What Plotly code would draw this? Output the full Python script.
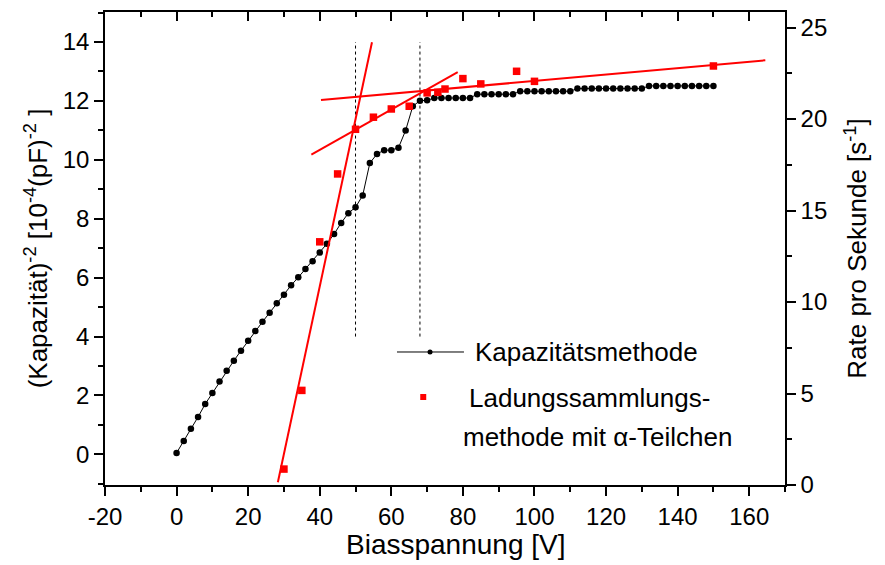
import plotly.graph_objects as go

# Kapazitätsmethode: Biasspannung [V] und (Kapazität)^-2 [10^-4 (pF)^-2]
kap_spannung = [0, 2, 4, 6, 8, 10, 12, 14, 16, 18, 20, 22, 24, 26, 28, 30, 32, 34, 36, 38,
                40, 42, 44, 46, 48, 50, 52, 54, 56, 58, 60, 62, 64, 66, 68, 70, 72, 74, 76, 78,
                80, 82, 84, 86, 88, 90, 92, 94, 96, 98, 100, 102, 104, 106, 108, 110, 112, 114, 116, 118,
                120, 122, 124, 126, 128, 130, 132, 134, 136, 138, 140, 142, 144, 146, 148, 150]
kap_werte = [0.05, 0.45, 0.87, 1.27, 1.71, 2.08, 2.47, 2.84, 3.18, 3.52, 3.86, 4.19, 4.50, 4.81, 5.13,
             5.42, 5.74, 6.01, 6.29, 6.56, 6.85, 7.15, 7.48, 7.86, 8.19, 8.39, 8.79, 9.89, 10.20, 10.33,
             10.33, 10.41, 11.00, 11.82, 12.01, 12.02, 12.10, 12.10, 12.10, 12.10, 12.10, 12.10,
             12.23, 12.23, 12.23, 12.23, 12.23, 12.23,
             12.33, 12.33, 12.33, 12.33, 12.33, 12.33, 12.33, 12.33,
             12.42, 12.42, 12.42, 12.42, 12.42, 12.42, 12.42, 12.42, 12.42, 12.42,
             12.51, 12.51, 12.51, 12.51, 12.51, 12.51, 12.51, 12.51, 12.51, 12.51]

# Ladungssammlungsmethode mit Alpha-Teilchen: Rate pro Sekunde
alpha_spannung = [30, 35, 40, 45, 50, 55, 60, 65, 70, 73, 75, 80, 85, 95, 100, 150]
alpha_rate = [0.87, 5.17, 13.29, 17.0, 19.44, 20.1, 20.55, 20.7, 21.43, 21.46, 21.64,
              22.21, 21.92, 22.61, 22.06, 22.9]

# Geradenanpassungen (Endpunkte) an die Rate
fit_steil_x = [28.3, 54.6]
fit_steil_y = [0.15, 24.2]
fit_mittel_x = [37.65, 78.55]
fit_mittel_y = [18.06, 22.57]
fit_flach_x = [40.35, 164.5]
fit_flach_y = [21.04, 23.21]

# Markierte Depletionsspannungen (gepunktete Senkrechten)
grenz_spannung = [50, 68]
grenz_y = [4, 14]

# Achsenbeschriftungen
x_ticks = [-20, 0, 20, 40, 60, 80, 100, 120, 140, 160]
x_ticktext = ["-20", "0", "20", "40", "60", "80", "100", "120", "140", "160"]

FONT = "Liberation Sans, Arial, sans-serif"
ROT = "#ff0000"

fig = go.Figure()

# Senkrechte Hilfslinien
for v in grenz_spannung:
    fig.add_trace(go.Scatter(x=[v, v], y=grenz_y, mode="lines",
                             line=dict(color="black", width=1, dash="dot"),
                             showlegend=False, hoverinfo="skip"))

fig.add_trace(go.Scatter(x=kap_spannung, y=kap_werte, mode="lines+markers",
                         line=dict(color="black", width=1),
                         marker=dict(symbol="circle", size=6.5, color="black"),
                         name="Kapazitätsmethode", showlegend=False))

fig.add_trace(go.Scatter(x=alpha_spannung, y=alpha_rate, mode="markers", yaxis="y2",
                         marker=dict(symbol="square", size=7.5, color=ROT),
                         name="Ladungssammlungsmethode", showlegend=False))

for fx, fy in [(fit_steil_x, fit_steil_y), (fit_mittel_x, fit_mittel_y), (fit_flach_x, fit_flach_y)]:
    fig.add_trace(go.Scatter(x=fx, y=fy, mode="lines", yaxis="y2",
                             line=dict(color=ROT, width=2),
                             showlegend=False, hoverinfo="skip"))

# leere Spur für die obere Achse
fig.add_trace(go.Scatter(x=[None], y=[None], xaxis="x2", showlegend=False, hoverinfo="skip"))

achse = dict(showline=True, linecolor="black", linewidth=1.5, showgrid=False, zeroline=False,
             ticks="outside", tickcolor="black", tickwidth=1.5, ticklen=9,
             tickfont=dict(family=FONT, size=24, color="black"))

fig.update_layout(
    width=885, height=565,
    margin=dict(l=105, r=100, t=12, b=80),
    paper_bgcolor="white", plot_bgcolor="white",
    font=dict(family=FONT, color="black"),
    showlegend=False,
    xaxis=dict(**achse, range=[-20, 170], tickmode="array", tickvals=x_ticks, ticktext=x_ticktext,
               minor=dict(dtick=10, tick0=0, ticklen=5, tickwidth=1.5, tickcolor="black", ticks="outside")),
    xaxis2=dict(overlaying="x", side="top", matches="x", range=[-20, 170], showline=True,
                linecolor="black", linewidth=1.5, showgrid=False, zeroline=False,
                ticks="inside", ticklen=9, tickwidth=1.5, tickcolor="black", dtick=20, tick0=0,
                showticklabels=False,
                minor=dict(dtick=10, ticklen=5, tickwidth=1.5, tickcolor="black", ticks="inside")),
    yaxis=dict(**achse, range=[-1.04, 15.02], dtick=2, tick0=0,
               minor=dict(dtick=1, ticklen=5, tickwidth=1.5, tickcolor="black", ticks="outside"),
               title=dict(text="(Kapazität)<sup>-2</sup> [10<sup>-4</sup>(pF)<sup>-2</sup> ]",
                          font=dict(family=FONT, size=26), standoff=8)),
    yaxis2=dict(**achse, overlaying="y", side="right", range=[0, 25.85], dtick=5, tick0=0,
                minor=dict(dtick=2.5, ticklen=5, tickwidth=1.5, tickcolor="black", ticks="outside"),
                title=dict(text="Rate pro Sekunde [s<sup>-1</sup>]",
                           font=dict(family=FONT, size=26), standoff=22)),
)

# x-Achsentitel
fig.add_annotation(xref="paper", yref="paper", x=0.516, y=-0.126, xanchor="center", yanchor="middle",
                   text="Biasspannung [V]", showarrow=False, font=dict(family=FONT, size=28))

# Legende (von Hand gesetzt)
fig.add_shape(type="line", xref="paper", yref="paper", x0=0.4294, x1=0.5279, y0=0.2812, y1=0.2812,
              line=dict(color="black", width=1))
fig.add_shape(type="circle", xref="paper", yref="paper", x0=0.4743, x1=0.4817, y0=0.2759, y1=0.2865,
              line=dict(color="black", width=0), fillcolor="black")
fig.add_shape(type="rect", xref="paper", yref="paper", x0=0.4636, x1=0.4724, y0=0.1797, y1=0.1924,
              line=dict(color=ROT, width=0), fillcolor=ROT)
fig.add_annotation(xref="paper", yref="paper", x=0.541, y=0.2818, xanchor="left", yanchor="middle",
                   text="Kapazitätsmethode", showarrow=False, font=dict(family=FONT, size=26))
fig.add_annotation(xref="paper", yref="paper", x=0.7118, y=0.184, xanchor="center", yanchor="middle",
                   text="Ladungssammlungs-", showarrow=False, font=dict(family=FONT, size=26))
fig.add_annotation(xref="paper", yref="paper", x=0.724, y=0.1015, xanchor="center", yanchor="middle",
                   text="methode mit α-Teilchen", showarrow=False, font=dict(family=FONT, size=26))

fig.write_html("out.html")
